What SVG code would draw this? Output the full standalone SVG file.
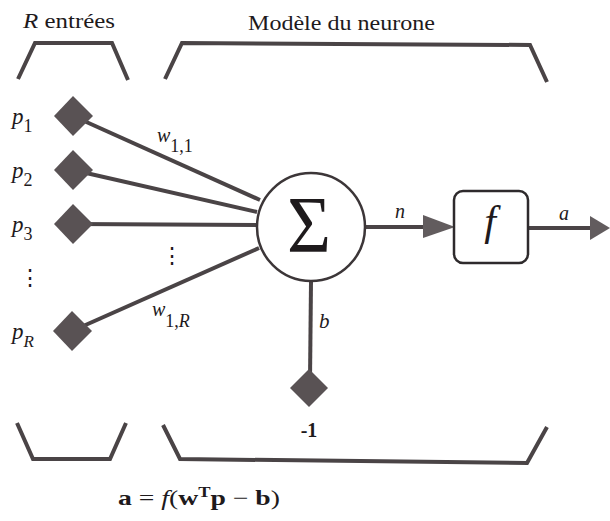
<svg xmlns="http://www.w3.org/2000/svg" width="610" height="521" viewBox="0 0 610 521">
<style>
.br{fill:none;stroke:#4a4446;stroke-width:4;stroke-linejoin:miter}
.ln{fill:none;stroke:#4a4446;stroke-width:4}
.dm{fill:#595254}
.ah{fill:#625c5e}
.t{font-family:"Liberation Serif","DejaVu Serif",serif;fill:#1e1a1c}
.i{font-style:italic}
</style>
<rect width="610" height="521" fill="#ffffff"/>
<g id="brackets">
<polyline class="br" points="18,79 35,43 112,43 128,80"/>
<polyline class="br" points="165,79 182,43 530,45 547,82"/>
<polyline class="br" points="17,423 33,459 110,459 126,423"/>
<polyline class="br" points="163,425 180,459 527,463 547,427"/>
</g>
<g id="titles">
<text class="t" x="23" y="28" font-size="21" textLength="92" lengthAdjust="spacingAndGlyphs"><tspan class="i">R</tspan> entrées</text>
<text class="t" x="248" y="30" font-size="21" textLength="187" lengthAdjust="spacingAndGlyphs">Modèle du neurone</text>
</g>
<g id="connectors">
<line class="ln" x1="73" y1="116" x2="260" y2="200"/>
<line class="ln" x1="73" y1="170" x2="257" y2="212"/>
<line class="ln" x1="73" y1="224" x2="257" y2="225"/>
<line class="ln" x1="72" y1="331" x2="259" y2="248"/>
<line class="ln" x1="311" y1="282" x2="310" y2="380"/>
<line class="ln" x1="365" y1="227" x2="428" y2="227"/>
<polygon class="ah" points="423,215 455,227 423,238"/>
<line class="ln" x1="528" y1="228" x2="594" y2="228"/>
<polygon class="ah" points="590,216 610,228 590,240"/>
</g>
<g id="input-p1">
<polygon class="dm" points="73,96 93,116 73,136 54,116"/>
<text class="t i" x="12" y="124" font-size="23">p<tspan font-style="normal" font-size="18" dy="8">1</tspan></text>
</g>
<g id="input-p2">
<polygon class="dm" points="73,150 93,170 73,190 54,170"/>
<text class="t i" x="12" y="178" font-size="23">p<tspan font-style="normal" font-size="18" dy="8">2</tspan></text>
</g>
<g id="input-p3">
<polygon class="dm" points="73,204 93,224 73,244 54,224"/>
<text class="t i" x="12" y="232" font-size="23">p<tspan font-style="normal" font-size="18" dy="8">3</tspan></text>
</g>
<g id="input-pR">
<polygon class="dm" points="72,311 92,331 72,351 53,331"/>
<text class="t i" x="12" y="339" font-size="23">p<tspan font-size="17" dy="8">R</tspan></text>
</g>
<g id="dots">
<text class="t" x="30" y="285" font-size="22" text-anchor="middle" style="font-family:'DejaVu Serif',serif">⋮</text>
<text class="t" x="172" y="263" font-size="22" text-anchor="middle" style="font-family:'DejaVu Serif',serif">⋮</text>
</g>
<g id="weights">
<text class="t i" x="157" y="142" font-size="20">w<tspan font-style="normal" font-size="18" dy="10">1,1</tspan></text>
<text class="t i" x="152" y="316" font-size="20">w<tspan font-style="normal" font-size="18" dy="11">1,</tspan><tspan font-size="18">R</tspan></text>
</g>
<g id="sum">
<circle cx="311" cy="227" r="54" fill="#ffffff" stroke="#3c3638" stroke-width="2.5"/>
<text class="t" x="287" y="252" font-size="80" textLength="44" lengthAdjust="spacingAndGlyphs">Σ</text>
</g>
<g id="bias">
<polygon class="dm" points="309,369 328,388 309,407 290,388"/>
<text class="t i" x="319" y="328" font-size="21">b</text>
<text class="t" x="309" y="437" font-size="20" text-anchor="middle" font-weight="bold">-1</text>
</g>
<g id="transfer-f">
<rect x="454" y="191" width="74" height="72" rx="9" fill="#ffffff" stroke="#2e2a2c" stroke-width="2.5"/>
<text class="t i" x="490" y="235" font-size="42" text-anchor="middle">f</text>
</g>
<g id="signals">
<text class="t i" x="395" y="218" font-size="20">n</text>
<text class="t i" x="559" y="220" font-size="20">a</text>
</g>
<g id="formula">
<text class="t" x="118" y="505" font-size="21" textLength="162" lengthAdjust="spacingAndGlyphs"><tspan font-weight="bold">a</tspan> = <tspan class="i">f</tspan>(<tspan font-weight="bold">w</tspan><tspan font-weight="bold" font-size="14" dy="-8">T</tspan><tspan font-weight="bold" dy="8">p</tspan> − <tspan font-weight="bold">b</tspan>)</text>
</g>
</svg>
